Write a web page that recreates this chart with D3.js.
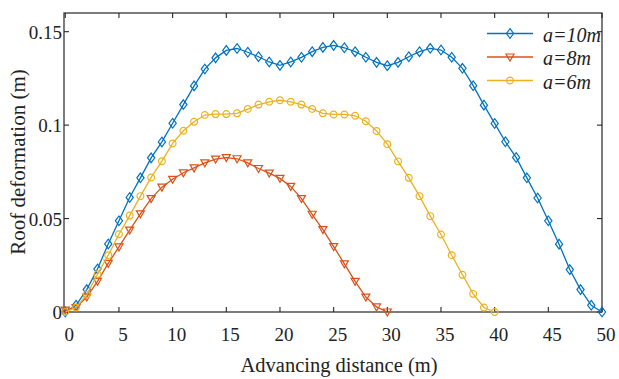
<!DOCTYPE html>
<html>
<head>
<meta charset="utf-8">
<script src="https://cdn.jsdelivr.net/npm/d3@7"></script>
<style>
  html, body { margin: 0; padding: 0; background: #fff; }
  svg { display: block; }
  text { font-family: "Liberation Serif", "Times New Roman", serif; fill: #222; }
</style>
</head>
<body>
<svg id="chart" width="619" height="379"></svg>
<script>
// Roof deformation (m) against advancing distance (m), one reading per metre
const seriesNames = ["a=10m", "a=8m", "a=6m"];

const deform10 = [0, 0.0036, 0.012, 0.023, 0.0364, 0.0488, 0.0613, 0.0718, 0.0825, 0.091,
  0.101, 0.111, 0.121, 0.130, 0.136, 0.140, 0.141, 0.139, 0.1366, 0.1338,
  0.132, 0.1338, 0.1363, 0.1393, 0.1416, 0.1427, 0.1414, 0.1393, 0.1363, 0.1336,
  0.1318, 0.1336, 0.1366, 0.1393, 0.1411, 0.1402, 0.1363, 0.1304, 0.1211, 0.1107,
  0.1009, 0.0911, 0.0827, 0.0718, 0.061, 0.0488, 0.0363, 0.0227, 0.012, 0.0036, 0];

const deform8 = [0.001, 0.0024, 0.008, 0.0164, 0.026, 0.0348, 0.0438, 0.0525, 0.0607, 0.0668,
  0.071, 0.0745, 0.0771, 0.0798, 0.0818, 0.0826, 0.082, 0.0798, 0.0768, 0.0743,
  0.0715, 0.0672, 0.0607, 0.0523, 0.0441, 0.035, 0.0258, 0.0164, 0.008, 0.0027, 0];

const deform6 = [0, 0.0024, 0.0093, 0.0202, 0.0304, 0.0416, 0.0516, 0.062, 0.072, 0.0807,
  0.0902, 0.097, 0.1018, 0.1054, 0.1059, 0.1059, 0.1063, 0.1086, 0.111, 0.1125,
  0.1133, 0.1125, 0.111, 0.1086, 0.1063, 0.1057, 0.1057, 0.105, 0.1021, 0.0969,
  0.0898, 0.0806, 0.0718, 0.062, 0.0513, 0.0415, 0.0304, 0.0199, 0.0097, 0.0024, 0];

const xTicks = [0, 5, 10, 15, 20, 25, 30, 35, 40, 45, 50];
const yTicks = [0, 0.05, 0.1, 0.15];
const yTickLabels = ["0", "0.05", "0.1", "0.15"];

const colors = ["#0072BD", "#D95319", "#EDB120"];
const markers = ["diamond", "triangleDown", "circle"];

const svg = d3.select("#chart");
const plot = { left: 64, right: 602, top: 13, bottom: 312 };

const x = d3.scaleLinear().domain([-0.12, 50]).range([plot.left, plot.right]);
const y = d3.scaleLinear().domain([0, 0.16]).range([plot.bottom, plot.top]);

const series = [deform10, deform8, deform6].map((vals, i) => ({
  name: seriesNames[i],
  color: colors[i],
  marker: markers[i],
  points: vals.map((v, k) => ({ d: k, v }))
}));

// marker path generator centred on (0,0)
function markerPath(type) {
  if (type === "diamond") return "M0,-4.8L3.6,0L0,4.8L-3.6,0Z";
  if (type === "triangleDown") return "M-4,-3L4,-3L0,4Z";
  return d3.symbol().type(d3.symbolCircle).size(36)();
}

// frame with inward ticks on all four sides
const tickLen = 5;
const axisColor = "#262626";
const frame = svg.append("g");
frame.append("rect")
  .attr("x", plot.left).attr("y", plot.top)
  .attr("width", plot.right - plot.left).attr("height", plot.bottom - plot.top)
  .attr("fill", "none").attr("stroke", axisColor).attr("stroke-width", 1.2);

xTicks.forEach(t => {
  const px = x(t);
  frame.append("line").attr("x1", px).attr("x2", px)
    .attr("y1", plot.bottom).attr("y2", plot.bottom - tickLen)
    .attr("stroke", axisColor).attr("stroke-width", 1.1);
  frame.append("line").attr("x1", px).attr("x2", px)
    .attr("y1", plot.top).attr("y2", plot.top + tickLen)
    .attr("stroke", axisColor).attr("stroke-width", 1.1);
});
yTicks.forEach(t => {
  const py = y(t);
  frame.append("line").attr("x1", plot.left).attr("x2", plot.left + tickLen)
    .attr("y1", py).attr("y2", py).attr("stroke", axisColor).attr("stroke-width", 1.1);
  frame.append("line").attr("x1", plot.right).attr("x2", plot.right - tickLen)
    .attr("y1", py).attr("y2", py).attr("stroke", axisColor).attr("stroke-width", 1.1);
});

// tick labels
svg.append("g").selectAll("text").data(xTicks).join("text")
  .attr("x", d => x(d) + 4).attr("y", 341)
  .attr("text-anchor", "middle").attr("font-size", 19)
  .text(d => d);

svg.append("g").selectAll("text").data(yTicks).join("text")
  .attr("x", 62).attr("y", d => y(d) + 7)
  .attr("text-anchor", "end").attr("font-size", 19)
  .text((d, i) => yTickLabels[i]);

// axis titles
svg.append("text")
  .attr("x", 339).attr("y", 372)
  .attr("text-anchor", "middle").attr("font-size", 20.5)
  .text("Advancing distance (m)");

svg.append("text")
  .attr("transform", "translate(25,162) rotate(-90)")
  .attr("text-anchor", "middle").attr("font-size", 21)
  .text("Roof deformation (m)");

// series lines and markers
const line = d3.line().x(p => x(p.d)).y(p => y(p.v));
const layer = svg.append("g");
series.forEach(s => {
  const g = layer.append("g");
  g.append("path").datum(s.points)
    .attr("d", line).attr("fill", "none")
    .attr("stroke", s.color).attr("stroke-width", 1.3);
  g.selectAll("path.mk").data(s.points).join("path")
    .attr("class", "mk")
    .attr("d", markerPath(s.marker))
    .attr("transform", p => `translate(${x(p.d)},${y(p.v)})`)
    .attr("fill", "none").attr("stroke", s.color).attr("stroke-width", 1.2);
});

// legend
const legend = svg.append("g");
const rowY = [33.5, 57, 80.5];
series.forEach((s, i) => {
  const ly = rowY[i];
  legend.append("line").attr("x1", 487).attr("x2", 533)
    .attr("y1", ly).attr("y2", ly)
    .attr("stroke", s.color).attr("stroke-width", 1.3);
  legend.append("path").attr("d", markerPath(s.marker))
    .attr("transform", `translate(510,${ly})`)
    .attr("fill", "none").attr("stroke", s.color).attr("stroke-width", 1.2);
  legend.append("text")
    .attr("x", 543).attr("y", ly + 8)
    .attr("font-size", 20).attr("font-style", "italic")
    .text(s.name);
});
</script>
</body>
</html>
